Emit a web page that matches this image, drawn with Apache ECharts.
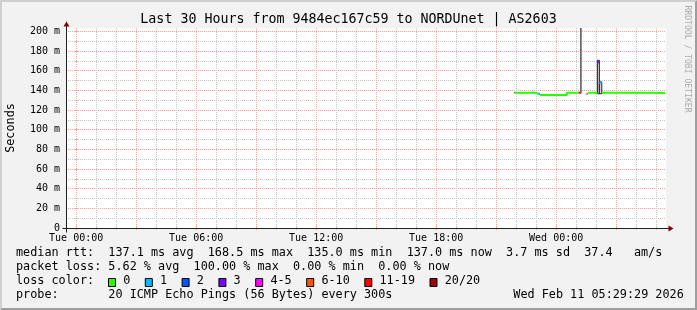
<!DOCTYPE html>
<html><head><meta charset="utf-8">
<script src="https://cdn.jsdelivr.net/npm/echarts@6/dist/echarts.min.js"></script>
<style>html,body{margin:0;padding:0;background:#f2f2f2}#c{width:697px;height:310px}</style>
</head><body><div id="c"></div>
<script>
// ---------------- data ----------------
const titleText = 'Last 30 Hours from 9484ec167c59 to NORDUnet | AS2603';
const yAxisName = 'Seconds';
const watermarkText = 'RRDTOOL / TOBI OETIKER';
// x in hours relative to Tue 00:00 (window Mon 23:29:29 .. Wed 05:29:29)
const xRange = [-0.508, 29.492];
const yRange = [0, 203.3];
const xMinorHours = [0,1,2,3,4,5,6,7,8,9,10,11,12,13,14,15,16,17,18,19,20,21,22,23,24,25,26,27,28,29];
const xMajorHours = [0,3,6,9,12,15,18,21,24,27];
const xLabelHours = [0,6,12,18,24];
const xLabelTexts = ['Tue 00:00','Tue 06:00','Tue 12:00','Tue 18:00','Wed 00:00'];
const yMinorTicks = [0,10,20,30,40,50,60,70,80,90,100,110,120,130,140,150,160,170,180,190,200];
const yMajorTicks = [0,20,40,60,80,100,120,140,160,180,200];
const yLabelTexts = ['0','20 m','40 m','60 m','80 m','100 m','120 m','140 m','160 m','180 m','200 m'];

const lossLabels = ['0','1','2','3','4-5','6-10','11-19','20/20'];
const lossColors = ['#26ff00','#00b8ff','#0059ff','#7e00ff','#ff00ff','#ff5500','#ff0000','#a00000'];

// median rtt segments (ms), with loss-colour index
const segStart  = [21.94, 23.06, 23.19, 24.53, 25.13, 25.53, 25.58, 26.06, 26.16, 26.28, 28.84, 28.91];
const segEnd    = [23.06, 23.19, 24.53, 25.13, 25.24, 25.58, 26.06, 26.16, 26.28, 28.84, 28.91, 29.44];
const segMedian = [137.5, 136.5, 135.1, 137.5, 137.5, 136.2, 137.5, 168.5, 147.7, 137.5, 138.5, 137.2];
const segLoss   = [0,     1,     0,     0,     6,     5,     0,     3,     1,     0,     0,     0];

// smoke (ping spread) per step
const smokeStart = [21.89, 25.19, 25.48, 26.06, 26.16];
const smokeEnd   = [21.93, 25.28, 25.51, 26.16, 26.28];
const smokeLow   = [136.8, 137.5, 135.8, 136.5, 136.5];
const smokeHigh  = [138.2, 260.0, 137.0, 170.5, 148.5];
const smokeShade = [2,     0,     2,     1,     1];

const statLines = [
  'median rtt:  137.1 ms avg  168.5 ms max  135.0 ms min  137.0 ms now  3.7 ms sd  37.4   am/s',
  'packet loss: 5.62 % avg  100.00 % max  0.00 % min  0.00 % now'
];
const lossColorLabel = 'loss color:';
const probeText = 'probe:       20 ICMP Echo Pings (56 Bytes) every 300s';
const dateText = 'Wed Feb 11 05:29:29 2026';

// ---------------- styles ----------------
const MONO = "'DejaVu Sans Mono', monospace";
const GRID_C = '#c6c6c6';
const MGRID_C = '#f2a6a6';
const smokeFill = ['#6b6b6b', '#d6d6d6', '#3a3a3a'];
const smokeStroke = [null, '#1e1e1e', null];

// build median series per loss colour
const lossSeries = lossLabels.map((lab, li) => {
  const data = [];
  for (let i = 0; i < segStart.length; i++) {
    if (segLoss[i] !== li) continue;
    if (data.length && data[data.length - 1][0] !== segStart[i]) data.push([segStart[i], null]);
    data.push([segStart[i], segMedian[i]]);
    data.push([segEnd[i], segMedian[i]]);
  }
  return {
    type: 'line', name: lab, data, symbol: 'none', showSymbol: false, connectNulls: false,
    lineStyle: { color: lossColors[li], width: 2 }, itemStyle: { color: lossColors[li] },
    silent: true, z: 3, clip: true
  };
});

const smokeSeries = {
  type: 'custom', z: 2, silent: true, clip: true,
  data: smokeStart.map((s, i) => [s, smokeEnd[i], smokeLow[i], smokeHigh[i], smokeShade[i]]),
  encode: { x: [0, 1], y: [2, 3] },
  renderItem(params, api) {
    const p0 = api.coord([api.value(0), api.value(3)]);
    const p1 = api.coord([api.value(1), api.value(2)]);
    const cs = params.coordSys;
    const shape = echarts.graphic.clipRectByRect(
      { x: p0[0], y: p0[1], width: p1[0] - p0[0], height: p1[1] - p0[1] },
      { x: cs.x, y: cs.y, width: cs.width, height: cs.height });
    if (!shape) return null;
    const sh = api.value(4);
    return { type: 'rect', shape, style: { fill: smokeFill[sh], stroke: smokeStroke[sh], lineWidth: 1 } };
  }
};

function xAx(pos, ticks, color, split, labels) {
  return {
    type: 'value', min: xRange[0], max: xRange[1], position: pos,
    axisLine: { show: false },
    axisTick: { show: true, length: 2, customValues: ticks, lineStyle: { color, width: 1 } },
    axisLabel: labels ? {
      show: true, customValues: xLabelHours, margin: 5, color: '#000', fontFamily: MONO, fontSize: 10,
      formatter: v => xLabelTexts[xLabelHours.indexOf(v)] || ''
    } : { show: false },
    splitLine: { show: split, lineStyle: { color, type: 'dotted', width: 1 } }
  };
}
function yAx(pos, ticks, color, split, labels) {
  return {
    type: 'value', min: yRange[0], max: yRange[1], position: pos,
    axisLine: { show: false },
    axisTick: { show: true, length: 2, customValues: ticks, lineStyle: { color, width: 1 } },
    axisLabel: labels ? {
      show: true, customValues: yMajorTicks, margin: 6, color: '#000', fontFamily: MONO, fontSize: 10,
      formatter: v => { const k = yMajorTicks.indexOf(v); return k < 0 ? '' : yLabelTexts[k]; }
    } : { show: false },
    splitLine: { show: split, lineStyle: { color, type: 'dotted', width: 1 } }
  };
}

const chart = echarts.init(document.getElementById('c'), null, { renderer: 'canvas', width: 697, height: 310 });
chart.setOption({
  animation: false,
  backgroundColor: '#f2f2f2',
  grid: { left: 66, top: 28, width: 600, height: 200, show: true, backgroundColor: '#ffffff', borderWidth: 0 },
  xAxis: [
    xAx('bottom', xMinorHours, GRID_C, true, false),
    xAx('bottom', xMajorHours, MGRID_C, true, true),
    xAx('top', xMinorHours, GRID_C, false, false),
    xAx('top', xMajorHours, MGRID_C, false, false)
  ],
  yAxis: [
    yAx('left', yMinorTicks, GRID_C, true, false),
    yAx('left', yMajorTicks, MGRID_C, true, true),
    yAx('right', yMinorTicks, GRID_C, false, false),
    yAx('right', yMajorTicks, MGRID_C, false, false)
  ],
  series: [smokeSeries].concat(lossSeries)
});

// ---------------- decorations (axes, arrows, texts) ----------------
const X0 = chart.convertToPixel({ xAxisIndex: 0 }, xRange[0]);
const X1 = chart.convertToPixel({ xAxisIndex: 0 }, xRange[1]);
const Y0 = chart.convertToPixel({ yAxisIndex: 0 }, yRange[0]);
const Y1 = chart.convertToPixel({ yAxisIndex: 0 }, yRange[1]);
const ax = Math.round(X0) + 0.5, ay = Math.round(Y0) + 0.5;
const AXIS_C = '#212121', ARROW_C = '#800000';
const g = [];
// 3D frame
g.push({ type: 'polygon', shape: { points: [[0,310],[2,308],[2,2],[695,2],[697,0],[0,0]] }, style: { fill: '#cfcfcf' }, z: 20 });
g.push({ type: 'polygon', shape: { points: [[2,308],[695,308],[695,2],[697,0],[697,310],[0,310]] }, style: { fill: '#9e9e9e' }, z: 20 });
// axes
g.push({ type: 'line', shape: { x1: ax - 4, y1: ay, x2: Math.round(X1) + 4.5, y2: ay }, style: { stroke: AXIS_C, lineWidth: 1 }, z: 10 });
g.push({ type: 'line', shape: { x1: ax, y1: ay + 4, x2: ax, y2: Math.round(Y1) - 3.5 }, style: { stroke: AXIS_C, lineWidth: 1 }, z: 10 });
g.push({ type: 'polygon', shape: { points: [[X1 + 2.5, ay - 3], [X1 + 2.5, ay + 3], [X1 + 7.5, ay]] }, style: { fill: ARROW_C }, z: 11 });
g.push({ type: 'polygon', shape: { points: [[ax - 3, Y1 - 1.5], [ax + 3, Y1 - 1.5], [ax, Y1 - 6.5]] }, style: { fill: ARROW_C }, z: 11 });
// title
g.push({ type: 'text', x: 348.5, y: 19.4, style: { text: titleText, font: '13.3px ' + MONO, fill: '#000', align: 'center', verticalAlign: 'middle' }, z: 12 });
// y name
g.push({ type: 'text', x: 10.5, y: 128, rotation: Math.PI / 2, style: { text: yAxisName, font: '11.8px ' + MONO, fill: '#000', align: 'center', verticalAlign: 'middle' }, z: 12 });
// watermark
g.push({ type: 'text', x: 687.5, y: 59, rotation: -Math.PI / 2, style: { text: watermarkText, font: '8.1px ' + MONO, fill: '#ababab', align: 'center', verticalAlign: 'middle' }, z: 12 });
// legend lines
const lineY = [253.2, 267.1, 281.0, 294.9];
const legFont = '11.8px ' + MONO;
statLines.forEach((t, i) => g.push({ type: 'text', x: 16, y: lineY[i], style: { text: t, font: legFont, fill: '#000', verticalAlign: 'middle' }, z: 12 }));
g.push({ type: 'text', x: 16, y: lineY[2], style: { text: lossColorLabel, font: legFont, fill: '#000', verticalAlign: 'middle' }, z: 12 });
let bx = 108.5;
lossLabels.forEach((lab, i) => {
  g.push({ type: 'rect', shape: { x: bx, y: 278.5, width: 7, height: 8 }, style: { fill: lossColors[i], stroke: '#000', lineWidth: 1 }, z: 12 });
  g.push({ type: 'text', x: bx + 14.7, y: lineY[2], style: { text: lab, font: legFont, fill: '#000', verticalAlign: 'middle' }, z: 12 });
  bx += 14.7 + lab.length * 7.1 + 15.0;
});
g.push({ type: 'text', x: 16, y: lineY[3], style: { text: probeText, font: legFont, fill: '#000', verticalAlign: 'middle' }, z: 12 });
g.push({ type: 'text', x: 513.3, y: lineY[3], style: { text: dateText, font: legFont, fill: '#000', verticalAlign: 'middle' }, z: 12 });
chart.setOption({ graphic: g });
</script>
</body></html>
